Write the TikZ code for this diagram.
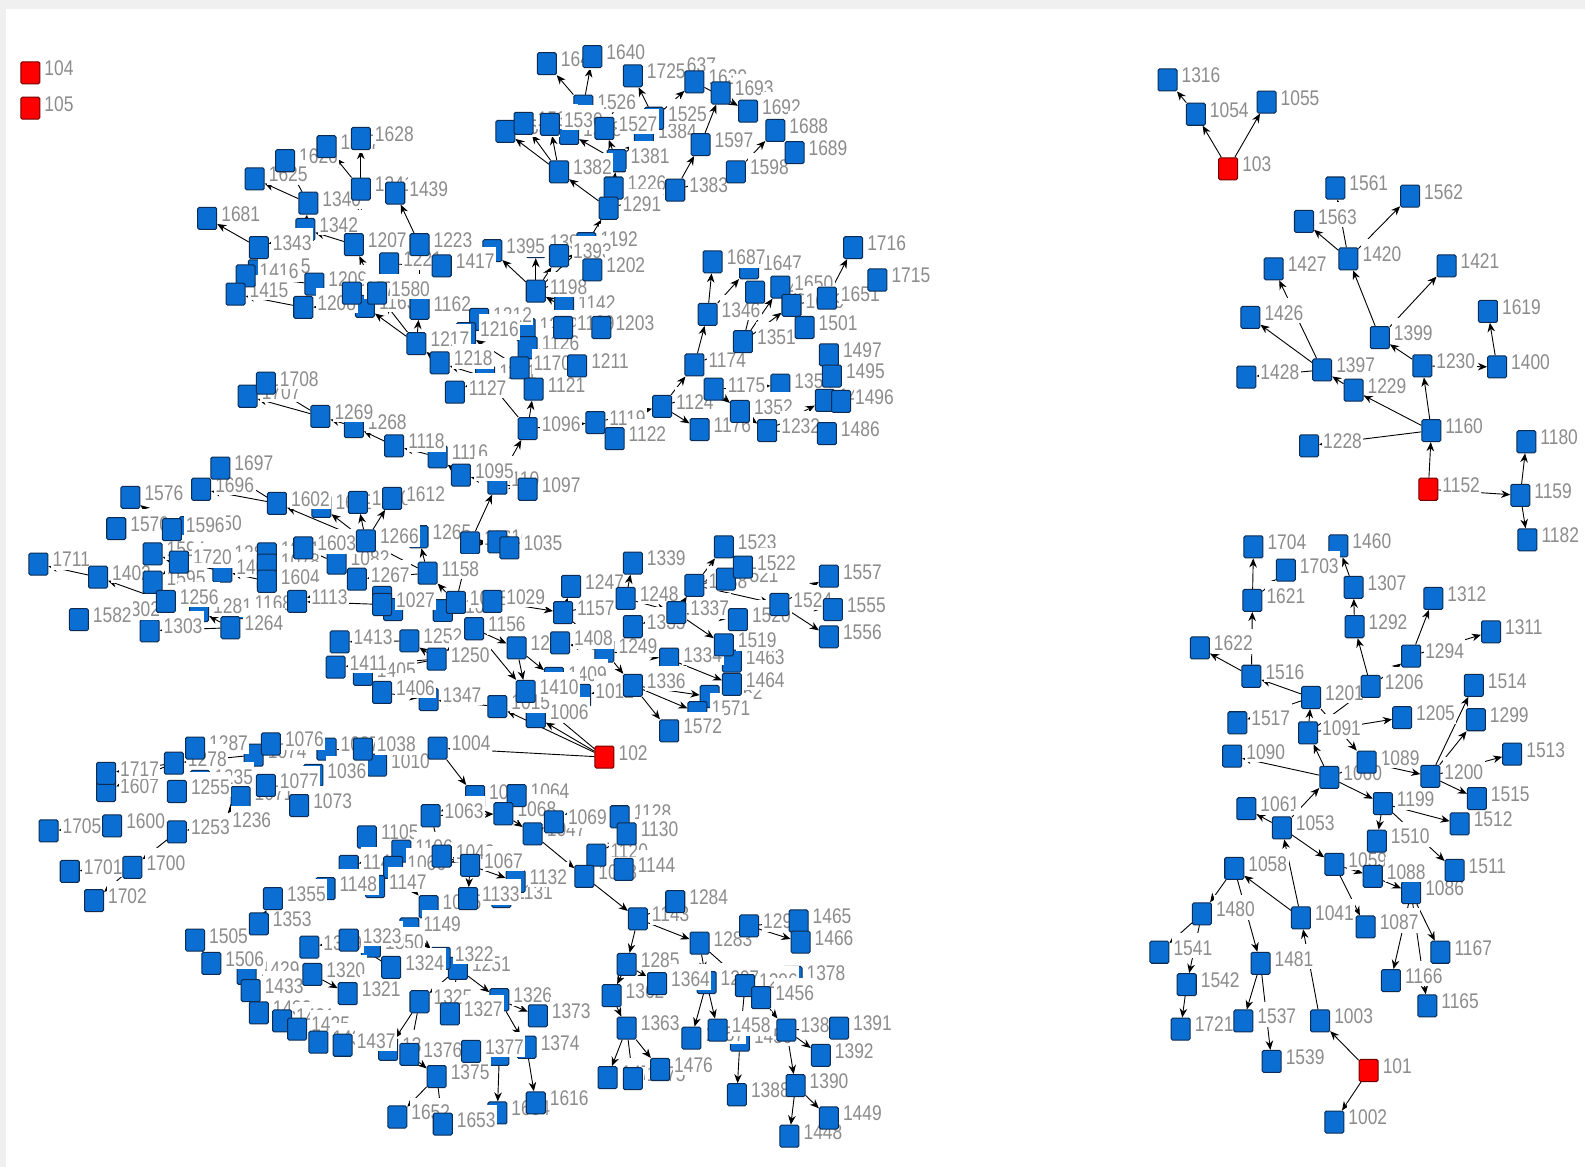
\documentclass[tikz,border=0pt]{standalone}
\usepackage{fontspec}
\setmainfont[FakeStretch=0.82]{Liberation Sans}
\usetikzlibrary{arrows.meta,backgrounds}
\definecolor{nodeblue}{RGB}{10,110,210}
\definecolor{nodeedge}{RGB}{12,44,84}
\definecolor{labelgray}{RGB}{140,140,140}
\tikzset{
  nodebox/.style={draw=nodeedge, fill=nodeblue, line width=1pt, rounded corners=1.5pt,
    minimum width=18.8pt, minimum height=21.8pt, inner sep=0pt},
  redbox/.style={nodebox, fill=red, draw=red!45!black},
  numlabel/.style={anchor=base west, fill=white, text=labelgray, inner xsep=1.5pt, inner ysep=0pt,
    text height=22pt, text depth=3pt, font=\fontsize{21}{21}\selectfont},
  link/.style={->, line width=.9pt}
}
% nodes that other labels partly cover
\def\cutnodes{1460/1324/540, 1086/1396/883,
  1665/255/268, 1209/311/281, 1342/302/227, 1221/385/261, 1163/361/303, 1162/415/305, 1171/480/373,
  1637/656/69, 1526/577/105, 1528/563/132, 1384/637/134, 1525/647/117, 1381/610/159,
  1394/530/244, 1395/487/248, 1192/580/241, 1393/553/253, 1142/558/304, 1219/520/326, 1126/522/344,
  1212/474/316, 1216/461/330, 1647/741/265, 1354/772/381,
  1268/350/422, 1116/433/452, 1102/492/478, 1609/318/501, 1265/414/531, 1161/465/537, 1550/187/522,
  1280/218/552, 1401/220/565, 1081/264/548, 1078/264/559, 1168/238/601, 1281/197/604, 1303/148/624, 1302/106/607,
  1082/333/557, 1103/438/604, 1405/359/667, 1347/424/692,
  1463/724/654, 1249/598/644, 1334/662/652, 1409/548/671, 1012/575/688, 1462/702/689, 1571/690/705, 1464/724/677, 1006/530/709,
  1074/251/747, 1037/323/741, 1010/373/757, 1036/310/767, 1235/198/773, 1071/238/789, 1236/216/816,
  1105/363/828, 1146/345/857, 1106/397/842, 1066/389/858, 1042/437/847, 1147/371/877, 1148/322/879,
  1131/496/887, 1132/510/872, 1062/470/788, 1065/424/897, 1149/405/919, 1350/367/936, 1251/453/958, 1322/436/948,
  1429/244/963, 1369/384/1038, 1326/494/989, 1374/521/1036, 1654/492/1101,
  1378/784/967, 1297/699/972, 1296/737/975, 1459/732/1029}
% nodes of which hardly more than a sliver shows
\def\barenodes{1079/264/585, 1026/378/591, 1025/389/603, 1070/569/815, 1370/494/1043}
\def\fullnodes{1316/1155/79, 1054/1183/113, 1055/1253/101, 1561/1321/186, 1562/1395/194, 1563/1290/219,
  1420/1334/256, 1427/1260/266, 1421/1431/263, 1619/1472/308, 1426/1237/314, 1399/1365/334, 1230/1407/362,
  1400/1481/363, 1397/1308/366, 1428/1233/373, 1229/1339/386, 1160/1416/426, 1180/1510/437, 1228/1295/441,
  1159/1504/490, 1182/1511/534,
  1704/1240/541, 1703/1272/564, 1307/1339/581, 1621/1239/594, 1312/1418/592, 1292/1340/620, 1311/1475/625,
  1622/1187/641, 1294/1396/649, 1516/1238/669, 1206/1356/679, 1514/1458/678, 1201/1297/690, 1205/1387/710,
  1299/1460/712, 1517/1224/715, 1091/1294/725, 1513/1496/746, 1090/1219/748, 1089/1352/754, 1200/1415/768,
  1060/1315/769, 1515/1461/790, 1199/1368/795, 1061/1233/800, 1512/1444/815, 1053/1268/819, 1510/1362/832,
  1059/1320/855, 1058/1221/859, 1511/1439/861, 1088/1358/867, 1041/1287/908, 1480/1189/904, 1087/1351/917,
  1167/1425/942, 1541/1147/942, 1481/1247/953, 1166/1376/970, 1542/1174/974, 1165/1412/995, 1003/1306/1010,
  1537/1230/1010, 1721/1168/1018, 1539/1258/1050, 1002/1320/1110,
  1627/323/145, 1628/357/137, 1626/282/159, 1625/252/177, 1341/357/187, 1439/391/191, 1340/305/201, 1681/205/216,
  1207/350/242, 1223/415/242, 1343/256/245, 1417/437/263, 1416/243/273, 1415/233/291, 1208/300/304, 1579/348/290,
  1580/373/290, 1217/412/340, 1218/435/359, 1127/450/388,
  1641/541/63, 1640/586/56, 1725/626/75, 1639/687/81, 1693/713/92, 1692/740/110, 1688/767/129, 1689/786/151,
  1598/728/170, 1597/693/143, 1383/668/188, 1531/500/130, 1532/518/122, 1530/544/123, 1527/598/127, 1382/553/170,
  1226/607/186, 1291/602/206, 1198/530/288, 1202/586/267, 1169/557/324, 1203/595/324, 1170/514/364, 1211/571/362,
  1121/528/385, 1096/522/424, 1119/589/418, 1122/608/434,
  1687/705/259, 1648/747/289, 1650/772/284, 1649/783/302, 1651/818/295, 1716/844/245, 1715/868/277, 1501/796/324,
  1346/700/311, 1351/735/338, 1174/687/361, 1175/706/385, 1124/655/402, 1176/692/425, 1352/732/407, 1232/759/426,
  1497/820/351, 1495/823/372, 1498/816/396, 1496/832/397, 1486/818/429,
  1707/245/392, 1708/263/379, 1269/317/412, 1118/390/441, 1095/456/470, 1097/522/484,
  1697/218/463, 1696/199/484, 1576/129/492, 1602/274/498, 1610/354/497, 1612/388/493, 1266/362/535,
  1570/115/523, 1596/170/524, 1594/151/548, 1720/177/556, 1595/151/576, 1711/38/558, 1402/97/571, 1256/164/595,
  1582/78/613, 1264/228/621, 1604/264/575, 1603/300/542, 1267/353/573, 1113/294/595, 1027/378/598, 1158/423/567,
  1034/492/536, 1035/504/542, 1028/451/596, 1029/487/595, 1156/469/622, 1252/405/634, 1413/336/635, 1250/432/652,
  1411/332/660, 1406/378/685, 1015/492/699,
  1339/626/557, 1523/716/541, 1521/718/573, 1522/735/561, 1557/820/570, 1555/824/603, 1556/820/630, 1524/771/598,
  1247/565/580, 1248/619/592, 1338/687/579, 1337/669/606, 1520/730/613, 1157/557/606, 1335/626/620, 1519/716/638,
  1408/554/636, 1298/511/641, 1410/520/684, 1336/626/678, 1572/662/723, 1004/433/740,
  1287/193/740, 1076/268/736, 1278/172/755, 1607/105/782, 1717/105/765, 1255/175/783, 1077/263/777, 1073/296/797,
  1600/111/817, 1705/48/822, 1253/175/823, 1700/131/858, 1701/69/862, 1702/93/891, 1038/359/741,
  1355/270/889, 1353/256/914, 1505/193/930, 1506/209/953, 1319/306/937, 1323/345/930, 1320/309/964, 1324/387/957,
  1321/344/983, 1325/415/991, 1327/445/1003, 1433/248/980, 1432/256/1002, 1431/279/1010, 1425/294/1018, 1430/315/1031,
  1437/339/1034, 1376/405/1043, 1377/466/1040, 1375/432/1065, 1652/393/1105, 1653/438/1112, 1616/530/1091, 1373/532/1005,
  1064/511/787, 1063/426/807, 1068/498/805, 1047/527/825, 1069/548/813, 1128/613/808, 1130/620/825, 1120/590/846,
  1144/617/860, 1018/578/867, 1067/465/856, 1133/463/889,
  1143/631/909, 1284/668/892, 1283/692/933, 1285/620/954, 1364/650/973, 1362/605/985, 1363/620/1017, 1293/741/916,
  1465/790/911, 1466/792/932, 1456/753/987, 1457/684/1027, 1458/710/1019, 1386/778/1019, 1391/830/1017, 1392/812/1044, 1388/729/1083,
  1390/787/1074, 1449/820/1106, 1448/781/1124, 1474/601/1066, 1475/626/1067, 1476/653/1058}
\def\rednodes{103/1215/167, 1152/1413/484, 101/1354/1059, 102/598/749, 104/30/72, 105/30/107}
\begin{document}
\begin{tikzpicture}[x=1pt, y=-1pt, >={Stealth[length=9pt,width=7.5pt]}]
  \useasboundingbox (0,0) rectangle (1568,1154);
  \begin{scope}[on background layer]
    \fill[black!6] (0,0) rectangle (1568,1154);
    \fill[white] (6,9) rectangle (1568,1154);
  \end{scope}
  \foreach \id/\px/\py in \barenodes
    \node[nodebox] (n\id) at (\px,\py) {};
  \foreach \id/\px/\py in \cutnodes {
    \node[nodebox] (n\id) at (\px,\py) {};
    \node[numlabel] (l\id) at (\px+12.25,\py+2.9) {\id};
  }
  \foreach \id/\px/\py in \fullnodes
    \node[numlabel] (l\id) at (\px+12.25,\py+2.9) {\id};
  \foreach \id/\px/\py in \rednodes
    \node[numlabel] (l\id) at (\px+12.25,\py+2.9) {\id};
  \foreach \id/\px/\py in \fullnodes
    \node[nodebox] (n\id) at (\px,\py) {};
  \foreach \id/\px/\py in \rednodes
    \node[redbox] (n\id) at (\px,\py) {};
  \begin{scope}[on background layer]
    \foreach \a/\b in {103/1054, 1054/1316, 103/1055, 1420/1563, 1420/1561, 1420/1562, 1399/1420, 1399/1421,
      1230/1399, 1230/1400, 1400/1619, 1160/1230, 1160/1229, 1229/1397, 1397/1426, 1397/1427, 1397/1428,
      1160/1228, 1152/1160, 1152/1159, 1159/1180, 1159/1182,
      101/1002, 101/1003, 1003/1041, 1041/1053, 1041/1058, 1053/1061, 1053/1059, 1053/1060, 1060/1090, 1060/1091,
      1060/1199, 1060/1089, 1089/1200, 1200/1514, 1200/1299, 1200/1513, 1200/1515, 1199/1510, 1199/1512, 1199/1511,
      1091/1201, 1201/1516, 1516/1622, 1516/1621, 1621/1704, 1621/1703, 1201/1517, 1201/1089, 1091/1206, 1091/1205,
      1206/1292, 1292/1307, 1307/1460, 1206/1294, 1294/1312, 1294/1311, 1059/1088, 1088/1086, 1059/1087,
      1086/1167, 1086/1166, 1086/1165, 1058/1480, 1058/1481, 1480/1541, 1480/1542, 1542/1721, 1481/1537, 1481/1539,
      1291/1382, 1382/1531, 1382/1532, 1382/1530, 1291/1226, 1226/1381, 1381/1528, 1381/1527, 1527/1526, 1526/1641,
      1526/1640, 1527/1725, 1525/1725, 1525/1639, 1639/1692, 1381/1384, 1384/1525, 1291/1383, 1383/1597, 1597/1693,
      1598/1688, 1383/1598, 1192/1291, 1198/1192, 1198/1395, 1198/1394, 1198/1393, 1198/1202, 1142/1198, 1169/1142,
      1169/1203, 1096/1121, 1121/1170, 1170/1126, 1126/1219, 1170/1216, 1170/1169, 1216/1212, 1096/1171, 1171/1218,
      1171/1127, 1218/1217, 1217/1162, 1217/1163, 1217/1580, 1162/1223, 1223/1439, 1162/1221, 1221/1417, 1580/1207,
      1207/1342, 1207/1341, 1341/1628, 1341/1627, 1342/1340, 1340/1625, 1340/1626, 1342/1343, 1343/1681, 1163/1208,
      1208/1415, 1163/1209, 1209/1416, 1416/1665, 1096/1119, 1119/1122, 1119/1124, 1124/1174, 1124/1176, 1124/1175,
      1174/1346, 1346/1687, 1346/1647, 1175/1352, 1352/1232, 1232/1498, 1232/1486, 1498/1497, 1498/1495, 1498/1496,
      1175/1354, 1174/1351, 1351/1648, 1351/1649, 1351/1650, 1649/1651, 1649/1501, 1651/1716, 1651/1715,
      1102/1096, 1161/1102, 1102/1095, 1102/1097, 1095/1116, 1116/1118, 1118/1268, 1268/1269, 1269/1707, 1269/1708,
      1158/1265, 1028/1158, 1028/1161, 1161/1034, 1034/1035, 1158/1266, 1266/1612, 1266/1610, 1266/1609, 1266/1602,
      1602/1696, 1602/1697, 1158/1267, 1267/1082, 1082/1603, 1267/1113, 1027/1113, 1113/1604, 1604/1401, 1401/1720,
      1720/1594, 1720/1595, 1595/1256, 1256/1402, 1402/1711, 1596/1576, 1720/1596, 1264/1303,
      1264/1281, 1604/1264, 1028/1027, 1028/1103, 1028/1156, 1156/1298, 1298/1410, 1298/1409, 1156/1410, 1156/1250, 1250/1252,
      1252/1413, 1250/1411, 1250/1405, 1405/1406, 1406/1347, 1015/1347, 102/1015, 1029/1157, 1028/1029,
      102/1006, 102/1410, 102/1004, 1157/1247, 1157/1249, 1249/1408, 1249/1336, 1249/1334, 1334/1464, 1336/1572,
      1336/1571, 1336/1462, 1336/1012, 1157/1248, 1248/1339, 1248/1337, 1337/1335, 1337/1519, 1337/1520, 1337/1338,
      1338/1523, 1338/1521, 1338/1522, 1338/1524, 1524/1557, 1524/1555, 1524/1556, 1519/1463,
      1004/1062, 1063/1068, 1062/1063, 1068/1047, 1068/1064, 1047/1018, 1047/1069, 1018/1120, 1120/1130, 1130/1128,
      1130/1144, 1018/1143, 1143/1284, 1143/1285, 1143/1283, 1285/1362, 1285/1364, 1362/1363, 1363/1474, 1363/1475,
      1363/1476, 1283/1297, 1283/1456, 1297/1457, 1297/1458, 1456/1378, 1456/1386, 1296/1459, 1459/1388, 1386/1392,
      1386/1391, 1386/1390, 1390/1449, 1390/1448, 1293/1466, 1293/1465, 1063/1042, 1042/1067, 1067/1133, 1067/1132,
      1132/1131, 1066/1065, 1065/1149, 1149/1350, 1149/1322, 1322/1251, 1251/1326, 1326/1373, 1326/1374, 1374/1616,
      1370/1654, 1251/1325, 1251/1327, 1325/1376, 1325/1369, 1369/1437, 1376/1375, 1375/1652, 1375/1653,
      1106/1146, 1146/1147, 1353/1355, 1505/1506, 1324/1323, 1323/1319, 1320/1321, 1253/1700, 1700/1701, 1700/1702,
      1071/1236, 1236/1253, 1600/1705, 1278/1717, 1278/1607, 1074/1278, 1037/1076, 1036/1077, 1077/1073,
      1037/1038, 1038/1010}
      \draw[link] (n\a) -- (n\b);
  \end{scope}
\end{tikzpicture}
\end{document}
